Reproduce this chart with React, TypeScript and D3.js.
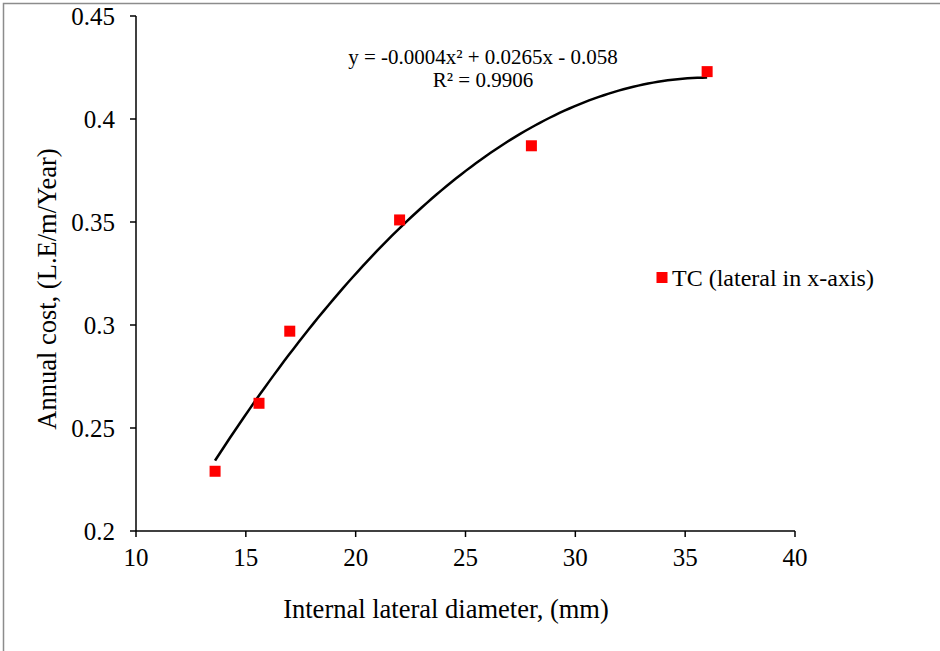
import React from "react";
import * as d3 from "d3";

const xValues = [13.6, 15.6, 17, 22, 28, 36];
const yValues = [0.229, 0.262, 0.297, 0.351, 0.387, 0.423];
const xTicks = [10, 15, 20, 25, 30, 35, 40];
const yTicks = [0.2, 0.25, 0.3, 0.35, 0.4, 0.45];
const yTickLabels = ["0.2", "0.25", "0.3", "0.35", "0.4", "0.45"];
const equationText = "y = -0.0004x² + 0.0265x - 0.058";
const r2Text = "R² = 0.9906";
const legendLabel = "TC (lateral in x-axis)";
const xTitle = "Internal lateral diameter, (mm)";
const yTitle = "Annual cost, (L.E/m/Year)";

function fitQuadratic(xs: number[], ys: number[]) {
  const n = xs.length;
  let s0 = n, s1 = 0, s2 = 0, s3 = 0, s4 = 0, t0 = 0, t1 = 0, t2 = 0;
  for (let i = 0; i < n; i++) {
    const x = xs[i], y = ys[i];
    s1 += x; s2 += x * x; s3 += x * x * x; s4 += x * x * x * x;
    t0 += y; t1 += x * y; t2 += x * x * y;
  }
  const M = [
    [s4, s3, s2, t2],
    [s3, s2, s1, t1],
    [s2, s1, s0, t0],
  ];
  for (let i = 0; i < 3; i++) {
    let p = i;
    for (let k = i + 1; k < 3; k++) if (Math.abs(M[k][i]) > Math.abs(M[p][i])) p = k;
    [M[i], M[p]] = [M[p], M[i]];
    for (let k = i + 1; k < 3; k++) {
      const f = M[k][i] / M[i][i];
      for (let j = i; j < 4; j++) M[k][j] -= f * M[i][j];
    }
  }
  const sol = [0, 0, 0];
  for (let i = 2; i >= 0; i--) {
    let s = M[i][3];
    for (let j = i + 1; j < 3; j++) s -= M[i][j] * sol[j];
    sol[i] = s / M[i][i];
  }
  return sol;
}

export default function App() {
  const W = 940, H = 651;
  const x = d3.scaleLinear().domain([10, 40]).range([136, 795]);
  const y = d3.scaleLinear().domain([0.2, 0.45]).range([531, 16]);
  const [a, b, c] = fitQuadratic(xValues, yValues);
  const xmin = d3.min(xValues)!, xmax = d3.max(xValues)!;
  const curvePts = d3.range(0, 101).map((i) => {
    const xv = xmin + ((xmax - xmin) * i) / 100;
    return [xv, a * xv * xv + b * xv + c] as [number, number];
  });
  const line = d3
    .line<[number, number]>()
    .x((d) => x(d[0]))
    .y((d) => y(d[1]))
    .curve(d3.curveMonotoneX);
  const font = "'Liberation Serif', 'Times New Roman', serif";
  const x0 = x(10), yb = y(0.2);
  return (
    <svg
      width={W}
      height={H}
      style={{ position: "fixed", left: 0, top: 0, background: "#fff" }}
      fontFamily={font}
    >
      <rect x={0} y={0} width={W} height={H} fill="#fff" />
      <path d={`M3.5,${H} V3.5 H${W}`} fill="none" stroke="#8c8c8c" strokeWidth={1.5} />
      <line x1={x0} x2={x0} y1={y(0.45)} y2={yb} stroke="#000" strokeWidth={1.5} />
      <line x1={x0} x2={x(40)} y1={yb} y2={yb} stroke="#000" strokeWidth={1.5} />
      {yTicks.map((t, i) => (
        <g key={"y" + i}>
          <line x1={x0 - 6} x2={x0} y1={y(t)} y2={y(t)} stroke="#000" strokeWidth={1.5} />
          <text x={x0 - 21} y={y(t)} dy="0.35em" textAnchor="end" fontSize={25} fill="#000">
            {yTickLabels[i]}
          </text>
        </g>
      ))}
      {xTicks.map((t, i) => (
        <g key={"x" + i}>
          <line x1={x(t)} x2={x(t)} y1={yb} y2={yb + 6} stroke="#000" strokeWidth={1.5} />
          <text x={x(t)} y={566} textAnchor="middle" fontSize={25} fill="#000">
            {t}
          </text>
        </g>
      ))}
      <path d={line(curvePts) || ""} fill="none" stroke="#000" strokeWidth={2.5} />
      {xValues.map((xv, i) => (
        <rect key={"p" + i} x={x(xv) - 5.5} y={y(yValues[i]) - 5.5} width={11} height={11} fill="#ff0000" />
      ))}
      <text x={483} y={64} textAnchor="middle" fontSize={21} fill="#000">
        {equationText}
      </text>
      <text x={483} y={87} textAnchor="middle" fontSize={21} fill="#000">
        {r2Text}
      </text>
      <rect x={656.5} y={272} width={11} height={11} fill="#ff0000" />
      <text x={672} y={286} fontSize={24} fill="#000">
        {legendLabel}
      </text>
      <text x={446} y={618} textAnchor="middle" fontSize={26.5} fill="#000">
        {xTitle}
      </text>
      <text
        transform={`translate(56,289) rotate(-90)`}
        textAnchor="middle"
        fontSize={26.5}
        fill="#000"
      >
        {yTitle}
      </text>
    </svg>
  );
}
